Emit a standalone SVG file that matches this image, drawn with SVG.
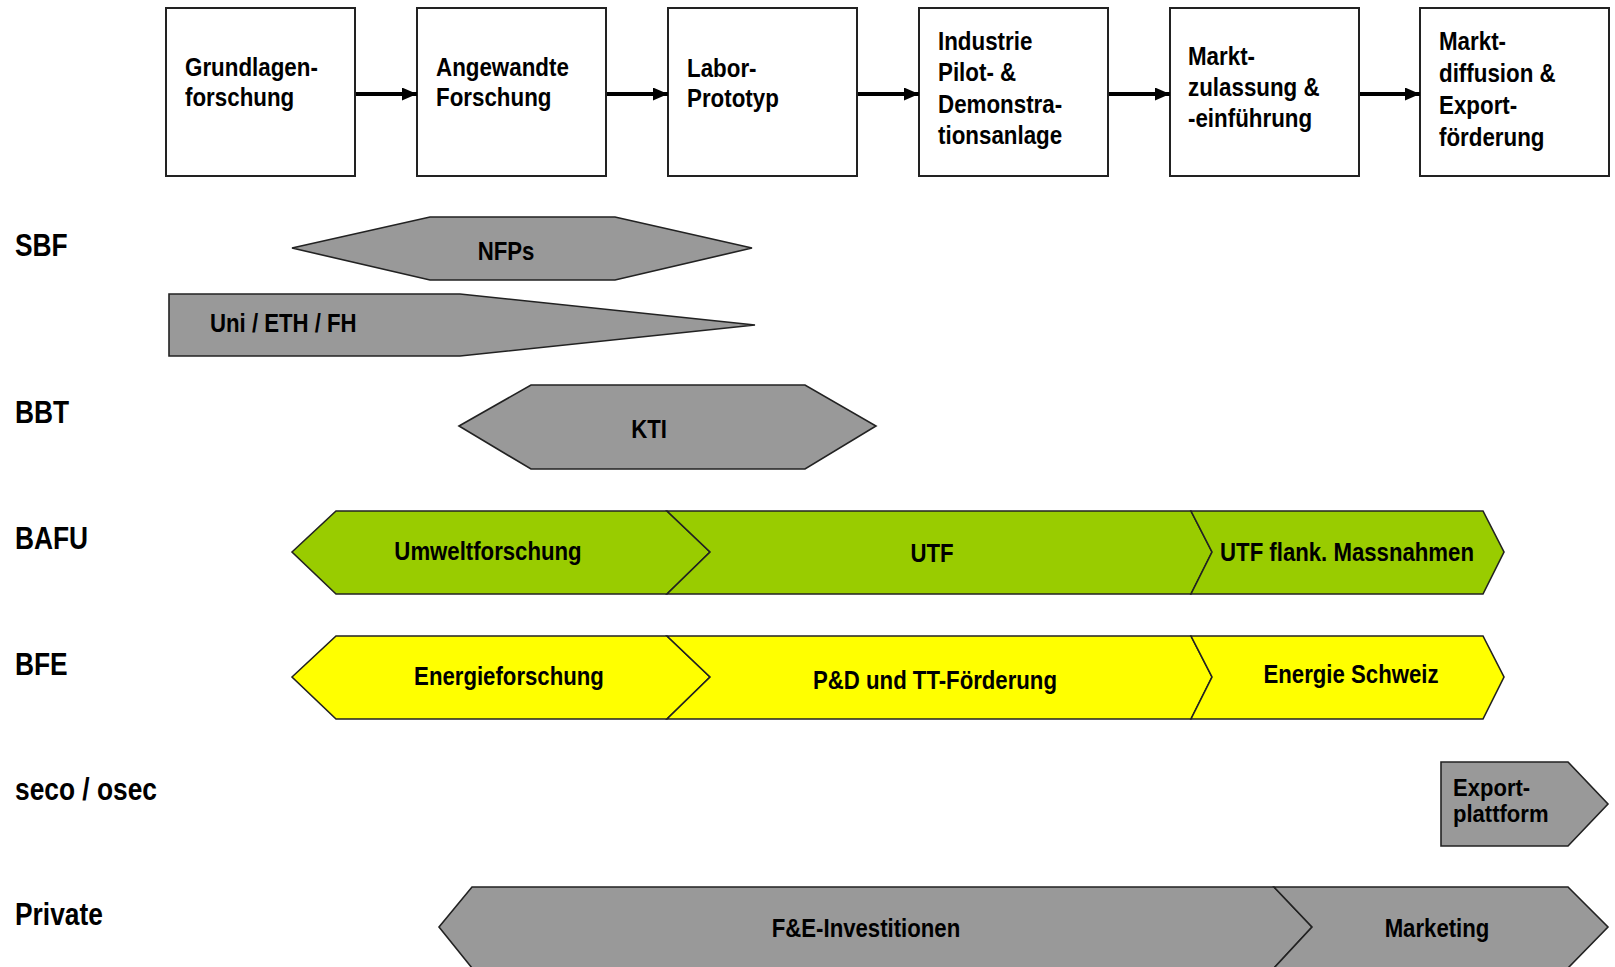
<svg xmlns="http://www.w3.org/2000/svg" width="1615" height="967" viewBox="0 0 1615 967">
<style>
text{font-family:"Liberation Sans",Arial,sans-serif;font-weight:bold;fill:#000}
.box{fill:#fff;stroke:#222;stroke-width:2}
.bt{font-size:26px}
.lbl{font-size:31px}
.bar{font-size:25.5px}
.exp{font-size:24.5px}
.mid{text-anchor:middle}
.gray{fill:#999999;stroke:#222;stroke-width:1.6;stroke-linejoin:miter}
.green{fill:#99CC00;stroke:#222;stroke-width:1.6}
.yellow{fill:#FFFF00;stroke:#222;stroke-width:1.6}
.conn{stroke:#000;stroke-width:4;fill:none}
</style>
<defs>
<marker id="ah" markerUnits="userSpaceOnUse" markerWidth="15" markerHeight="13" refX="15" refY="6.5" orient="auto">
<path d="M0,0 L15,6.5 L0,13 z" fill="#000"/>
</marker>
</defs>
<rect width="1615" height="967" fill="#fff"/>

<g id="stage1"><rect class="box" x="166" y="8" width="189" height="168"/>
<text class="bt" transform="translate(185 76) scale(0.86 1)"><tspan x="0">Grundlagen-</tspan><tspan x="0" dy="30">forschung</tspan></text></g>
<g id="stage2"><rect class="box" x="417" y="8" width="189" height="168"/>
<text class="bt" transform="translate(436 76) scale(0.86 1)"><tspan x="0">Angewandte</tspan><tspan x="0" dy="30">Forschung</tspan></text></g>
<g id="stage3"><rect class="box" x="668" y="8" width="189" height="168"/>
<text class="bt" transform="translate(687 77) scale(0.86 1)"><tspan x="0">Labor-</tspan><tspan x="0" dy="30">Prototyp</tspan></text></g>
<g id="stage4"><rect class="box" x="919" y="8" width="189" height="168"/>
<text class="bt" transform="translate(938 50) scale(0.86 1)"><tspan x="0">Industrie</tspan><tspan x="0" dy="31.3">Pilot- &amp;</tspan><tspan x="0" dy="31.3">Demonstra-</tspan><tspan x="0" dy="31.3">tionsanlage</tspan></text></g>
<g id="stage5"><rect class="box" x="1170" y="8" width="189" height="168"/>
<text class="bt" transform="translate(1188 65) scale(0.86 1)"><tspan x="0">Markt-</tspan><tspan x="0" dy="31">zulassung &amp;</tspan><tspan x="0" dy="31">-einführung</tspan></text></g>
<g id="stage6"><rect class="box" x="1420" y="8" width="189" height="168"/>
<text class="bt" transform="translate(1439 50) scale(0.86 1)"><tspan x="0">Markt-</tspan><tspan x="0" dy="32">diffusion &amp;</tspan><tspan x="0" dy="32">Export-</tspan><tspan x="0" dy="32">förderung</tspan></text></g>

<g id="connectors">
<line class="conn" x1="356" y1="94" x2="417" y2="94" marker-end="url(#ah)"/>
<line class="conn" x1="607" y1="94" x2="668" y2="94" marker-end="url(#ah)"/>
<line class="conn" x1="858" y1="94" x2="919" y2="94" marker-end="url(#ah)"/>
<line class="conn" x1="1109" y1="94" x2="1170" y2="94" marker-end="url(#ah)"/>
<line class="conn" x1="1360" y1="94" x2="1420" y2="94" marker-end="url(#ah)"/>
</g>

<g id="labels">
<text class="lbl" transform="translate(15 256) scale(0.85 1)">SBF</text>
<text class="lbl" transform="translate(15 423) scale(0.85 1)">BBT</text>
<text class="lbl" transform="translate(15 549) scale(0.85 1)">BAFU</text>
<text class="lbl" transform="translate(15 675) scale(0.85 1)">BFE</text>
<text class="lbl" transform="translate(15 800) scale(0.85 1)">seco / osec</text>
<text class="lbl" transform="translate(15 925) scale(0.85 1)">Private</text>
</g>

<g id="nfps"><polygon class="gray" points="292,248 430,217 615,217 752,248 615,280 430,280"/>
<text class="bar mid" transform="translate(506 260) scale(0.87 1)">NFPs</text></g>
<g id="uni"><polygon class="gray" points="169,294 460,294 755,325 460,356 169,356"/>
<text class="bar" transform="translate(210 332) scale(0.87 1)">Uni / ETH / FH</text></g>
<g id="kti"><polygon class="gray" points="459,426 531,385 805,385 876,426 805,469 531,469"/>
<text class="bar mid" transform="translate(649 438) scale(0.87 1)">KTI</text></g>

<g id="umweltforschung"><polygon class="green" points="292,552 336,511 667,511 710,552 667,594 336,594"/>
<text class="bar mid" transform="translate(488 560) scale(0.87 1)">Umweltforschung</text></g>
<g id="utf"><polygon class="green" points="667,511 1191,511 1212,552 1191,594 667,594 710,552"/>
<text class="bar mid" transform="translate(932 562) scale(0.87 1)">UTF</text></g>
<g id="utf-flank"><polygon class="green" points="1191,511 1483,511 1504,552 1483,594 1191,594 1212,552"/>
<text class="bar mid" transform="translate(1347 561) scale(0.87 1)">UTF flank. Massnahmen</text></g>

<g id="energieforschung"><polygon class="yellow" points="292,677 336,636 667,636 710,677 667,719 336,719"/>
<text class="bar mid" transform="translate(509 685) scale(0.87 1)">Energieforschung</text></g>
<g id="pd"><polygon class="yellow" points="667,636 1191,636 1212,677 1191,719 667,719 710,677"/>
<text class="bar mid" transform="translate(935 689) scale(0.87 1)">P&amp;D und TT-Förderung</text></g>
<g id="energie-schweiz"><polygon class="yellow" points="1191,636 1483,636 1504,677 1483,719 1191,719 1212,677"/>
<text class="bar mid" transform="translate(1351 683) scale(0.87 1)">Energie Schweiz</text></g>

<g id="exportplattform"><polygon class="gray" points="1441,762 1568,762 1608,804 1568,846 1441,846"/>
<text class="exp" transform="translate(1453 796) scale(0.9 1)">Export-</text>
<text class="exp" transform="translate(1453 822) scale(0.9 1)">plattform</text></g>

<g id="fe"><polygon class="gray" points="439,927 472,887 1274,887 1312,927 1274,968 472,968"/>
<text class="bar mid" transform="translate(866 937) scale(0.87 1)">F&amp;E-Investitionen</text></g>
<g id="marketing"><polygon class="gray" points="1274,887 1568,887 1608,927 1568,968 1274,968 1312,927"/>
<text class="bar mid" transform="translate(1437 937) scale(0.87 1)">Marketing</text></g>
</svg>
